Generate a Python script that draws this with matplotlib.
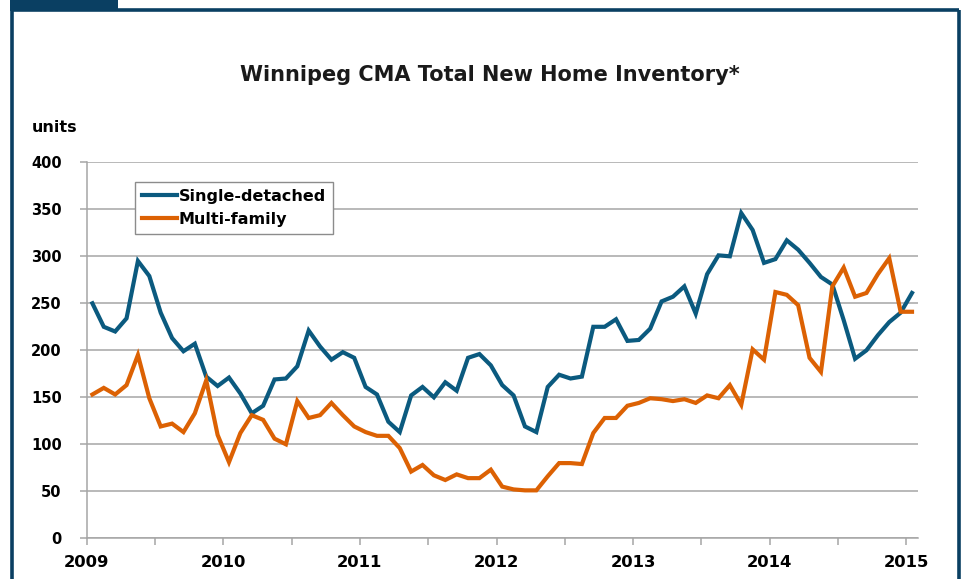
import matplotlib
matplotlib.use("Agg")
import matplotlib.pyplot as plt
from matplotlib.patches import Rectangle
from matplotlib.lines import Line2D

start_year = 2009
single_detached = [250, 225, 220, 234, 295, 279, 240, 213, 199, 207, 172, 162,
                   171, 154, 133, 141, 169, 170, 183, 221, 204, 190, 198, 192,
                   161, 153, 124, 113, 152, 161, 150, 166, 157, 192, 196, 184,
                   163, 152, 119, 113, 161, 174, 170, 172, 225, 225, 233, 210,
                   211, 223, 252, 257, 268, 239, 281, 301, 300, 346, 328, 293,
                   297, 317, 307, 293, 278, 270, 232, 191, 200, 216, 230, 240,
                   261]
multi_family = [153, 160, 153, 163, 195, 149, 119, 122, 113, 133, 168, 110,
                81, 112, 131, 126, 106, 100, 146, 128, 131, 144, 131, 119,
                113, 109, 109, 96, 71, 78, 67, 62, 68, 64, 64, 73,
                55, 52, 51, 51, 66, 80, 80, 79, 112, 128, 128, 141,
                144, 149, 148, 146, 148, 144, 152, 149, 163, 142, 201, 190,
                262, 259, 248, 192, 177, 268, 288, 257, 261, 281, 298, 241,
                241]
year_labels = ["2009", "2010", "2011", "2012", "2013", "2014", "2015"]
y_ticks = [0, 50, 100, 150, 200, 250, 300, 350, 400]
series_names = ["Single-detached", "Multi-family"]
title = "Winnipeg CMA Total New Home Inventory*"

BLUE = "#0b5a7f"
ORANGE = "#dc6103"
GRID = "#a6a6a6"
FRAME = "#0a3f62"
FONT = "DejaVu Sans"

W, H = 961, 579
fig = plt.figure(figsize=(W / 100, H / 100), dpi=100)

def fx(px):
    return px / W

def fy(py):
    return 1 - py / H

# outer frame
frame_kw = dict(transform=fig.transFigure, color=FRAME, lw=2.6, solid_capstyle="butt")
fig.add_artist(Line2D([fx(11.5), fx(11.5)], [fy(9.5), fy(579)], **frame_kw))
fig.add_artist(Line2D([fx(11.5), fx(958.5)], [fy(9.5), fy(9.5)], **frame_kw))
fig.add_artist(Line2D([fx(958.5), fx(958.5)], [fy(9.5), fy(579)], **frame_kw))
fig.add_artist(Rectangle((fx(10), fy(11)), fx(108), fy(0) - fy(11),
                         transform=fig.transFigure, color=FRAME, lw=0))

left, right, top, bottom = 86.7, 917.7, 162.3, 538.3
ax = fig.add_axes([fx(left), fy(bottom), fx(right - left), fy(top) - fy(bottom)])

x = [start_year + (i + 0.5) / 12 for i in range(len(single_detached))]
ax.plot(x, single_detached, color=BLUE, lw=3.0, label=series_names[0],
        solid_joinstyle="miter", zorder=3)
ax.plot(x, multi_family, color=ORANGE, lw=3.0, label=series_names[1],
        solid_joinstyle="miter", zorder=3)

ax.set_xlim(start_year, start_year + 6 + 1 / 12)
ax.set_ylim(0, 400)
ax.set_yticks(y_ticks)
ax.set_yticklabels([str(v) for v in y_ticks])
ax.set_xticks([start_year + k for k in range(len(year_labels))])
ax.set_xticklabels(year_labels)
ax.set_xticks([start_year + k + 0.5 for k in range(len(year_labels) - 1)], minor=True)

ax.grid(axis="y", color=GRID, lw=1.1, zorder=0)
for s in ["top", "right"]:
    ax.spines[s].set_visible(False)
for s in ["left", "bottom"]:
    ax.spines[s].set_color(GRID)
    ax.spines[s].set_linewidth(1.1)

ax.tick_params(axis="y", direction="out", length=5, color=GRID, width=1.1,
               pad=13, labelsize=10.5)
ax.tick_params(axis="x", which="both", direction="out", length=5, color=GRID,
               width=1.1, pad=7, labelsize=11.8)
for lab in ax.get_xticklabels() + ax.get_yticklabels():
    lab.set_fontfamily(FONT)
    lab.set_fontweight("bold")

fig.text(fx(490), fy(75), title, ha="center", va="center",
         fontsize=15, fontweight="bold", family=FONT, color="#1a1a1a")
fig.text(fx(32), fy(127), "units", ha="left", va="center",
         fontsize=11.5, fontweight="bold", family=FONT)

leg = ax.legend(loc="upper left",
                bbox_to_anchor=((135 - left) / (right - left), (bottom - 181.5) / (bottom - top)),
                frameon=True, fancybox=False, edgecolor="#8c8c8c", framealpha=1,
                prop={"family": FONT, "weight": "bold", "size": 11.5},
                handlelength=2.2, handletextpad=0.1, borderpad=0.45,
                labelspacing=0.5, borderaxespad=0)
leg.get_frame().set_linewidth(1.0)

fig.savefig("out.png", dpi=100)
